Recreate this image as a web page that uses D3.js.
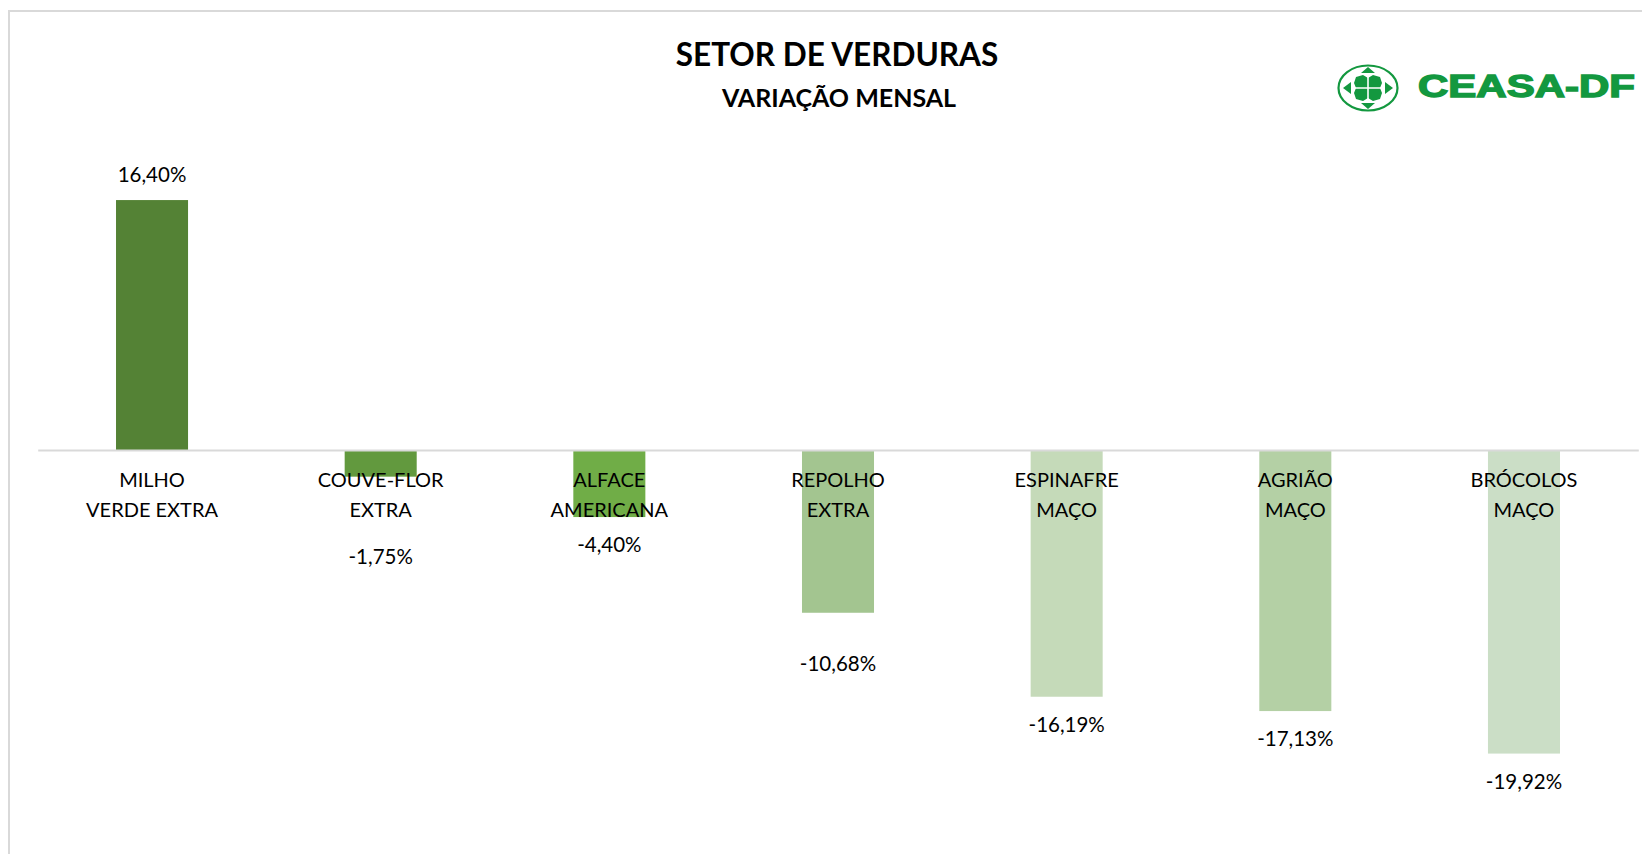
<!DOCTYPE html>
<html>
<head>
<meta charset="utf-8">
<script src="https://cdn.jsdelivr.net/npm/d3@7"></script>
<style>
  html, body { margin: 0; padding: 0; background: #fff; }
  svg { display: block; }
</style>
</head>
<body>
<svg id="chart" width="1642" height="854"></svg>
<script>
// data
const categories = [
  ['MILHO', 'VERDE EXTRA'],
  ['COUVE-FLOR', 'EXTRA'],
  ['ALFACE', 'AMERICANA'],
  ['REPOLHO', 'EXTRA'],
  ['ESPINAFRE', 'MAÇO'],
  ['AGRIÃO', 'MAÇO'],
  ['BRÓCOLOS', 'MAÇO'],
]
const values = [16.40, -1.75, -4.40, -10.68, -16.19, -17.13, -19.92]
const barColors = ['#548235', '#62993E', '#70AD47', '#A3C590', '#C5DAB9', '#B4D0A5', '#CBDEC6']

function drawChart() {
  const svg = d3.select('#chart')
  const width = 1642
  const height = 854
  const font = 'Lato, "Open Sans", sans-serif'

  // chart frame
  svg.append('rect')
    .attr('x', 9).attr('y', 11)
    .attr('width', width + 20).attr('height', height + 20)
    .attr('fill', '#fff')
    .attr('stroke', '#d9d9d9')
    .attr('stroke-width', 2)

  // titles
  svg.append('text')
    .attr('x', 837).attr('y', 65.5)
    .attr('text-anchor', 'middle')
    .attr('font-family', font)
    .attr('font-weight', 700)
    .attr('font-size', 31.5)
    .attr('fill', '#000')
    .text('SETOR DE VERDURAS')

  svg.append('text')
    .attr('x', 839).attr('y', 107)
    .attr('text-anchor', 'middle')
    .attr('font-family', font)
    .attr('font-weight', 700)
    .attr('font-size', 25)
    .attr('fill', '#000')
    .text('VARIAÇÃO MENSAL')

  // scales
  const x = d3.scaleBand()
    .domain(d3.range(values.length))
    .range([37.7, 1638.3])
    .paddingInner(0.685)
    .paddingOuter(0.3425)

  const y = d3.scaleLinear()
    .domain([-25, 20])
    .range([831, 145.2])

  // bars
  svg.append('g')
    .selectAll('rect')
    .data(values)
    .join('rect')
    .attr('x', (d, i) => x(i))
    .attr('y', d => y(Math.max(0, d)))
    .attr('width', x.bandwidth())
    .attr('height', d => Math.abs(y(d) - y(0)))
    .attr('fill', (d, i) => barColors[i])

  // zero axis line
  const axis = d3.axisBottom(x).tickSize(0).tickFormat('')
  const axisG = svg.append('g')
    .attr('transform', `translate(0,${y(0)})`)
    .call(axis)
  axisG.select('.domain')
    .attr('stroke', '#d9d9d9')
    .attr('stroke-width', 2)

  // category labels (two lines)
  const catG = svg.append('g')
    .selectAll('text')
    .data(categories)
    .join('text')
    .attr('text-anchor', 'middle')
    .attr('font-family', font)
    .attr('font-size', 20)
    .attr('fill', '#000')
  catG.each(function (d, i) {
    const cx = x(i) + x.bandwidth() / 2
    d3.select(this).selectAll('tspan')
      .data(d)
      .join('tspan')
      .attr('x', cx)
      .attr('y', (t, j) => y(0) + 37 + j * 30)
      .text(t => t)
  })

  // value labels; some were nudged in the original to clear the category text
  const labelShift = [0, 52, 0, 23, 0, 0, 0]
  const fmt = v => v.toFixed(2).replace('.', ',') + '%'
  svg.append('g')
    .selectAll('text')
    .data(values)
    .join('text')
    .attr('x', (d, i) => x(i) + x.bandwidth() / 2)
    .attr('y', (d, i) => d >= 0 ? y(d) - 18 : y(d) + 35 + labelShift[i])
    .attr('text-anchor', 'middle')
    .attr('font-family', font)
    .attr('font-size', 20.5)
    .attr('fill', '#000')
    .text(fmt)

  // CEASA-DF logo
  const green = '#13983F'
  const logo = svg.append('g').attr('transform', 'translate(1368,88)')
  logo.append('ellipse')
    .attr('rx', 29.5).attr('ry', 22.5)
    .attr('fill', 'none')
    .attr('stroke', green)
    .attr('stroke-width', 2.2)
  // central blob
  logo.append('path')
    .attr('d', 'M-12,-11 L-5,-13 L0,-10 L5,-13 L12,-11 L14,-5 L12,0 L14,5 L12,11 L5,13 L0,10 L-5,13 L-12,11 L-14,5 L-12,0 L-14,-5 Z')
    .attr('fill', green)
  // white cross
  logo.append('path')
    .attr('d', 'M0,-13 V13 M-15,0 H15')
    .attr('stroke', '#fff')
    .attr('stroke-width', 1.6)
  // arrows
  logo.append('path')
    .attr('d', 'M-7,-15 L0,-21 L7,-15 Z M-7,15 L0,21 L7,15 Z M-17,-6 L-25,0 L-17,6 Z M17,-6 L25,0 L17,6 Z')
    .attr('fill', green)

  svg.append('text')
    .attr('x', 1418).attr('y', 97)
    .attr('font-family', '"Liberation Sans", Arial, sans-serif')
    .attr('font-weight', 700)
    .attr('font-size', 30.5)
    .attr('fill', green)
    .attr('stroke', green)
    .attr('stroke-width', 1.4)
    .attr('textLength', 217)
    .attr('lengthAdjust', 'spacingAndGlyphs')
    .text('CEASA-DF')
}

window.onload = drawChart
</script>
</body>
</html>
